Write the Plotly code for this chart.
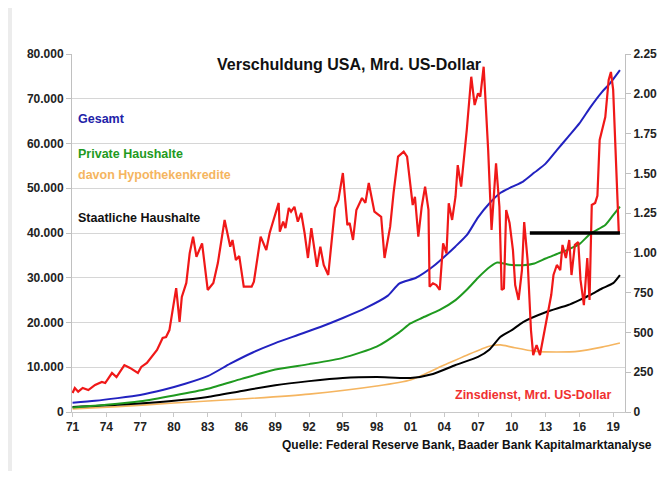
import plotly.graph_objects as go

# ---------------- data ----------------
gesamt_years = [1971, 1973, 1975, 1977, 1979, 1981, 1983, 1985, 1987, 1989, 1991, 1993, 1995, 1997,
                1999, 2000, 2001.5, 2003, 2005, 2006, 2007, 2008, 2009, 2010, 2011, 2012, 2013,
                2014, 2015, 2016, 2017, 2018, 2018.7, 2019.6]
gesamt_values = [2080, 2500, 3100, 3800, 4900, 6300, 8000, 10800, 13300, 15400, 17200, 19000, 21000,
                 23200, 26000, 28700, 30000, 32500, 37000, 39500, 43500, 46600, 49000, 50300, 51500,
                 53500, 55500, 58500, 61500, 64500, 68200, 71500, 73400, 76400]

private_years = [1971, 1974, 1977, 1980, 1983, 1986, 1989, 1992, 1995, 1998, 2000, 2001, 2002, 2003.6,
                 2005, 2006, 2007, 2008.1, 2008.7, 2009.8, 2011, 2012, 2013, 2014, 2015, 2016, 2017,
                 2018.3, 2019, 2019.6]
private_values = [1000, 1600, 2400, 3700, 5200, 7400, 9500, 10700, 12100, 14600, 17800, 19800, 21000,
                  22800, 25000, 27300, 30000, 32500, 33400, 32900, 32800, 33200, 34300, 35300, 36300,
                  37500, 39900, 41800, 44000, 45900]

hypo_years = [1971, 1975, 1980, 1986, 1992, 1998, 2001, 2004, 2006, 2008, 2009, 2010, 2012, 2014,
              2016, 2018, 2019.6]
hypo_values = [700, 1200, 2000, 2900, 4000, 5800, 7150, 10500, 12700, 14700, 15000, 14500, 13600,
               13400, 13600, 14500, 15400]

staat_years = [1971, 1975, 1980, 1983, 1986, 1989, 1992, 1995, 1998, 2001, 2003, 2005, 2007, 2008,
               2009, 2010, 2011, 2013, 2015, 2016, 2017, 2018, 2019, 2019.6]
staat_values = [1100, 1600, 2500, 3350, 4700, 6000, 6900, 7600, 7800, 7600, 8500, 10500, 12300, 13900,
                16800, 18300, 20100, 22300, 23900, 25000, 26200, 27600, 28800, 30600]

zins_years = [1971.0, 1971.2, 1971.5, 1971.9, 1972.4, 1973.0, 1973.6, 1973.9, 1974.5, 1974.9, 1975.6,
              1976.1, 1976.8, 1977.1, 1977.6, 1978.5, 1979.0, 1979.3, 1979.6, 1979.9, 1980.2, 1980.5,
              1980.7, 1981.1, 1981.4, 1981.7, 1982.0, 1982.5, 1983.0, 1983.5, 1983.9, 1984.5, 1985.0,
              1985.2, 1985.5, 1985.8, 1986.2, 1986.9, 1987.1, 1987.7, 1988.2, 1988.5, 1989.3, 1989.4,
              1989.7, 1989.9, 1990.2, 1990.4, 1990.7, 1991.0, 1991.3, 1991.6, 1991.9, 1992.2, 1992.7,
              1993.0, 1993.3, 1993.7, 1994.3, 1994.6, 1995.0, 1995.4, 1995.6, 1995.9, 1996.2, 1996.7,
              1997.0, 1997.3, 1997.8, 1998.4, 1998.7, 1999.2, 1999.5, 1999.9, 2000.4, 2000.7, 2001.0,
              2001.2, 2001.4, 2001.7, 2002.0, 2002.3, 2002.6, 2002.7, 2003.0, 2003.3, 2003.6, 2003.9,
              2004.2, 2004.4, 2004.7, 2005.0, 2005.2, 2005.5, 2006.0, 2006.4, 2006.7, 2007.0, 2007.2,
              2007.5, 2007.6, 2007.9, 2008.2, 2008.6, 2008.9, 2009.1, 2009.3, 2009.5, 2009.8, 2010.1,
              2010.3, 2010.6, 2010.9, 2011.1, 2011.4, 2011.7, 2011.9, 2012.2, 2012.5, 2012.9, 2013.2,
              2013.5, 2013.7, 2014.0, 2014.3, 2014.5, 2014.8, 2015.1, 2015.3, 2015.6, 2015.9, 2016.1,
              2016.4, 2016.7, 2016.9, 2017.1, 2017.4, 2017.6, 2017.8, 2018.3, 2018.6, 2018.8, 2019.0,
              2019.2, 2019.4, 2019.5]
zins_values = [119, 151, 128, 151, 138, 170, 189, 182, 245, 220, 295, 277, 245, 283, 308, 390, 465, 471,
               515, 641, 779, 566, 723, 811, 999, 1102, 976, 1060, 767, 811, 936, 1207, 1039, 1081, 955,
               980, 788, 788, 819, 1102, 1018, 1125, 1314, 1133, 1196, 1156, 1282, 1259, 1290, 1196,
               1251, 1125, 968, 1156, 913, 1039, 924, 861, 1282, 1332, 1502, 1175, 1188, 1081, 1270,
               1345, 1314, 1439, 1259, 1227, 968, 1165, 1376, 1605, 1636, 1605, 1416, 1301, 1353, 1102,
               1290, 1416, 1270, 788, 809, 798, 767, 1060, 997, 1312, 1207, 1353, 1552, 1416, 1772,
               2107, 1929, 2003, 1982, 2170, 2045, 1647, 1144, 1563, 1290, 767, 777, 1270, 1188, 1018,
               798, 704, 892, 1194, 955, 515, 358, 421, 358, 515, 641, 735, 861, 924, 892, 1050, 968,
               1081, 861, 1050, 1068, 830, 672, 968, 704, 1301, 1314, 1358, 1710, 1854, 2087, 2137,
               2024, 1690, 1351, 1125]

marker_years = [2011.6, 2019.6]
marker_value = [1125, 1125]

left_ticks = [0, 10000, 20000, 30000, 40000, 50000, 60000, 70000, 80000]
right_ticks = [0, 250, 500, 750, 1000, 1250, 1500, 1750, 2000, 2250]
x_ticks = list(range(1971, 2020, 3))
x_tick_labels = [str(y)[2:] for y in x_ticks]

# ---------------- figure ----------------
# page body adds an 8px offset; plot area lands at x 72..625, y 54..412 of the window
FW, FH = 657, 463
L, T, PW, PH = 64, 46, 553, 358

def px(x):   # window pixel -> paper x
    return (x - 72) / PW

def py(y):   # window pixel -> paper y
    return (412 - y) / PH

fig = go.Figure()
fig.add_trace(go.Scatter(x=hypo_years, y=hypo_values, mode="lines",
                         line=dict(color="#f5b560", width=1.6, shape="spline", smoothing=0.6)))
fig.add_trace(go.Scatter(x=staat_years, y=staat_values, mode="lines",
                         line=dict(color="#000000", width=2, shape="spline", smoothing=0.6)))
fig.add_trace(go.Scatter(x=private_years, y=private_values, mode="lines",
                         line=dict(color="#1f9a1f", width=2, shape="spline", smoothing=0.6)))
fig.add_trace(go.Scatter(x=gesamt_years, y=gesamt_values, mode="lines",
                         line=dict(color="#2222c0", width=2, shape="spline", smoothing=0.6)))
fig.add_trace(go.Scatter(x=zins_years, y=zins_values, mode="lines", yaxis="y2",
                         line=dict(color="#f01818", width=2.2)))
fig.add_trace(go.Scatter(x=marker_years, y=marker_value, mode="lines", yaxis="y2",
                         line=dict(color="#000000", width=3.5)))

tick_font = dict(family="Liberation Sans", size=12, color="#222222", weight="bold")

fig.update_layout(
    width=FW, height=FH,
    margin=dict(l=L, r=FW - L - PW, t=T, b=FH - T - PH, pad=0, autoexpand=False),
    paper_bgcolor="white", plot_bgcolor="white",
    showlegend=False,
    separators=",.",
    xaxis=dict(range=[1970.95, 2020.05], tickmode="array", tickvals=x_ticks, ticktext=x_tick_labels,
               showgrid=False, zeroline=False, showline=True, linecolor="#c8c8c8", linewidth=1,
               ticks="outside", ticklen=4, tickcolor="#c8c8c8", tickfont=tick_font, automargin=False),
    yaxis=dict(range=[0, 80000], tickmode="array", tickvals=left_ticks, tickformat=",.0f",
               showgrid=True, gridcolor="#d6d6d6", gridwidth=1, zeroline=False,
               showline=True, linecolor="#c0c0c0", ticks="outside", ticklen=5, tickcolor="#c0c0c0",
               tickfont=tick_font, automargin=False),
    yaxis2=dict(range=[0, 2250], overlaying="y", side="right", tickmode="array", tickvals=right_ticks,
                tickformat=",.0f", showgrid=False, zeroline=False, showline=True, linecolor="#c0c0c0",
                ticks="outside", ticklen=5, tickcolor="#c0c0c0", tickfont=tick_font, automargin=False),
)

# light gray border strip on the left of the screenshot
fig.add_shape(type="rect", xref="paper", yref="paper", x0=px(8), x1=px(12), y0=py(471), y1=py(8),
              fillcolor="#ececec", line=dict(width=0), layer="below")

ann_font = dict(family="Liberation Sans", size=12, weight="bold")
fig.add_annotation(text="Verschuldung USA, Mrd. US-Dollar", xref="paper", yref="paper",
                   x=px(349), y=py(64), xanchor="center", yanchor="middle", showarrow=False,
                   font=dict(family="Liberation Sans", size=16, weight="bold", color="#111111"))
labels = [("Gesamt", "#2222a8", 119), ("Private Haushalte", "#1f9a1f", 154),
          ("davon Hypothekenkredite", "#f5b560", 175), ("Staatliche Haushalte", "#111111", 218)]
for txt, col, ypix in labels:
    fig.add_annotation(text=txt, xref="paper", yref="paper", x=px(76), y=py(ypix),
                       xanchor="left", yanchor="middle", showarrow=False,
                       font=dict(ann_font, size=12.5, color=col))
fig.add_annotation(text="Zinsdienst, Mrd. US-Dollar", xref="paper", yref="paper",
                   x=px(613), y=py(395), xanchor="right", yanchor="middle", showarrow=False,
                   font=dict(ann_font, size=12.5, color="#f03030"))
fig.add_annotation(text="Quelle: Federal Reserve Bank, Baader Bank Kapitalmarktanalyse",
                   xref="paper", yref="paper", x=px(654), y=py(445), xanchor="right", yanchor="middle",
                   showarrow=False, font=dict(ann_font, size=12, color="#111111"))

fig.write_html("out.html")
